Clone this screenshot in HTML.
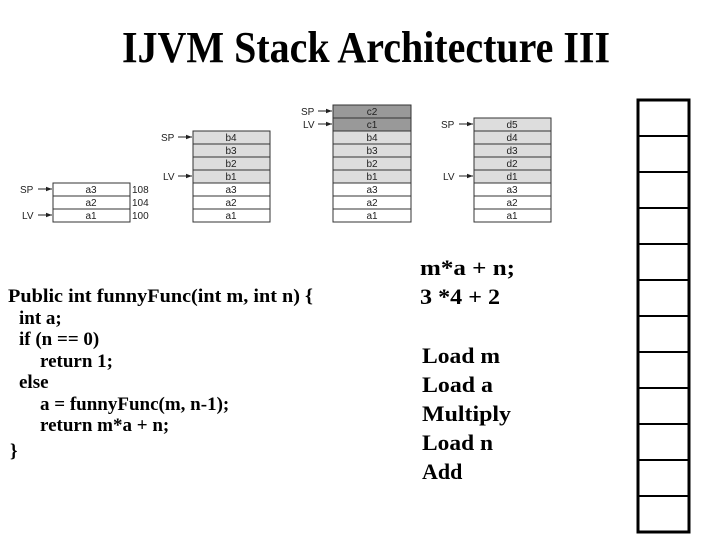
<!DOCTYPE html>
<html><head><meta charset="utf-8"><style>
html,body{margin:0;padding:0;background:#fff;}
svg{display:block}
.t{font-family:"Liberation Serif",serif;font-weight:bold;fill:#000}
.s{font-family:"Liberation Sans",sans-serif;font-size:10px;fill:#222}
</style></head><body>
<svg width="720" height="540" viewBox="0 0 720 540" xmlns="http://www.w3.org/2000/svg">
<defs><marker id="ar" markerWidth="6" markerHeight="6" refX="6" refY="3" orient="auto" markerUnits="userSpaceOnUse"><path d="M0,0.8 L6,3 L0,5.2z" fill="#222"/></marker></defs>
<text class="t" x="122" y="62" font-size="44" textLength="488" lengthAdjust="spacingAndGlyphs">IJVM Stack Architecture III</text>

<!-- stack 1 -->
<g stroke="#333" stroke-width="1">
<rect x="53" y="183" width="77" height="13" fill="#fff"/>
<rect x="53" y="196" width="77" height="13" fill="#fff"/>
<rect x="53" y="209" width="77" height="13" fill="#fff"/>
</g>
<g class="s" text-anchor="middle">
<text x="91" y="193">a3</text><text x="91" y="206">a2</text><text x="91" y="219">a1</text>
</g>
<g class="s"><text x="132" y="193">108</text><text x="132" y="206">104</text><text x="132" y="219">100</text>
<text x="20" y="193">SP</text><text x="22" y="219">LV</text></g>
<g stroke="#222" stroke-width="1" marker-end="url(#ar)"><line x1="38" y1="189" x2="52" y2="189"/><line x1="38" y1="215" x2="52" y2="215"/></g>

<!-- stack 2 -->
<g stroke="#333" stroke-width="1">
<rect x="193" y="131" width="77" height="13" fill="#ddd"/>
<rect x="193" y="144" width="77" height="13" fill="#ddd"/>
<rect x="193" y="157" width="77" height="13" fill="#ddd"/>
<rect x="193" y="170" width="77" height="13" fill="#ddd"/>
<rect x="193" y="183" width="77" height="13" fill="#fff"/>
<rect x="193" y="196" width="77" height="13" fill="#fff"/>
<rect x="193" y="209" width="77" height="13" fill="#fff"/>
</g>
<g class="s" text-anchor="middle">
<text x="231" y="141">b4</text><text x="231" y="154">b3</text><text x="231" y="167">b2</text><text x="231" y="180">b1</text>
<text x="231" y="193">a3</text><text x="231" y="206">a2</text><text x="231" y="219">a1</text>
</g>
<g class="s"><text x="161" y="141">SP</text><text x="163" y="180">LV</text></g>
<g stroke="#222" stroke-width="1" marker-end="url(#ar)"><line x1="178" y1="137" x2="192" y2="137"/><line x1="178" y1="176" x2="192" y2="176"/></g>

<!-- stack 3 -->
<g stroke="#333" stroke-width="1">
<rect x="333" y="105" width="78" height="13" fill="#999"/>
<rect x="333" y="118" width="78" height="13" fill="#999"/>
<rect x="333" y="131" width="78" height="13" fill="#ddd"/>
<rect x="333" y="144" width="78" height="13" fill="#ddd"/>
<rect x="333" y="157" width="78" height="13" fill="#ddd"/>
<rect x="333" y="170" width="78" height="13" fill="#ddd"/>
<rect x="333" y="183" width="78" height="13" fill="#fff"/>
<rect x="333" y="196" width="78" height="13" fill="#fff"/>
<rect x="333" y="209" width="78" height="13" fill="#fff"/>
</g>
<g class="s" text-anchor="middle">
<text x="372" y="115">c2</text><text x="372" y="128">c1</text>
<text x="372" y="141">b4</text><text x="372" y="154">b3</text><text x="372" y="167">b2</text><text x="372" y="180">b1</text>
<text x="372" y="193">a3</text><text x="372" y="206">a2</text><text x="372" y="219">a1</text>
</g>
<g class="s"><text x="301" y="115">SP</text><text x="303" y="128">LV</text></g>
<g stroke="#222" stroke-width="1" marker-end="url(#ar)"><line x1="318" y1="111" x2="332" y2="111"/><line x1="318" y1="124" x2="332" y2="124"/></g>

<!-- stack 4 -->
<g stroke="#333" stroke-width="1">
<rect x="474" y="118" width="77" height="13" fill="#ddd"/>
<rect x="474" y="131" width="77" height="13" fill="#ddd"/>
<rect x="474" y="144" width="77" height="13" fill="#ddd"/>
<rect x="474" y="157" width="77" height="13" fill="#ddd"/>
<rect x="474" y="170" width="77" height="13" fill="#ddd"/>
<rect x="474" y="183" width="77" height="13" fill="#fff"/>
<rect x="474" y="196" width="77" height="13" fill="#fff"/>
<rect x="474" y="209" width="77" height="13" fill="#fff"/>
</g>
<g class="s" text-anchor="middle">
<text x="512" y="128">d5</text><text x="512" y="141">d4</text><text x="512" y="154">d3</text><text x="512" y="167">d2</text><text x="512" y="180">d1</text>
<text x="512" y="193">a3</text><text x="512" y="206">a2</text><text x="512" y="219">a1</text>
</g>
<g class="s"><text x="441" y="128">SP</text><text x="443" y="180">LV</text></g>
<g stroke="#222" stroke-width="1" marker-end="url(#ar)"><line x1="459" y1="124" x2="473" y2="124"/><line x1="459" y1="176" x2="473" y2="176"/></g>

<!-- code -->
<g class="t" font-size="19">
<text x="8" y="302" textLength="305" lengthAdjust="spacingAndGlyphs">Public int funnyFunc(int m, int n) {</text>
<text x="19" y="324">int a;</text>
<text x="19" y="345">if (n == 0)</text>
<text x="40" y="367">return 1;</text>
<text x="19" y="388">else</text>
<text x="40" y="410">a = funnyFunc(m, n-1);</text>
<text x="40" y="431">return m*a + n;</text>
<text x="10" y="457">}</text>
</g>
<g class="t" font-size="22">
<text x="420" y="275" textLength="95" lengthAdjust="spacingAndGlyphs">m*a + n;</text>
<text x="420" y="304" textLength="80" lengthAdjust="spacingAndGlyphs">3 *4 + 2</text>
<text x="422" y="363" textLength="78" lengthAdjust="spacingAndGlyphs">Load m</text>
<text x="422" y="392" textLength="71" lengthAdjust="spacingAndGlyphs">Load a</text>
<text x="422" y="421" textLength="89" lengthAdjust="spacingAndGlyphs">Multiply</text>
<text x="422" y="450" textLength="71" lengthAdjust="spacingAndGlyphs">Load n</text>
<text x="422" y="479">Add</text>
</g>

<!-- right stack -->
<rect x="638" y="100" width="51" height="432" fill="none" stroke="#000" stroke-width="3"/>
<g stroke="#000" stroke-width="2">
<line x1="638" y1="136" x2="689" y2="136"/><line x1="638" y1="172" x2="689" y2="172"/>
<line x1="638" y1="208" x2="689" y2="208"/><line x1="638" y1="244" x2="689" y2="244"/>
<line x1="638" y1="280" x2="689" y2="280"/><line x1="638" y1="316" x2="689" y2="316"/>
<line x1="638" y1="352" x2="689" y2="352"/><line x1="638" y1="388" x2="689" y2="388"/>
<line x1="638" y1="424" x2="689" y2="424"/><line x1="638" y1="460" x2="689" y2="460"/>
<line x1="638" y1="496" x2="689" y2="496"/>
</g>
</svg>
</body></html>
